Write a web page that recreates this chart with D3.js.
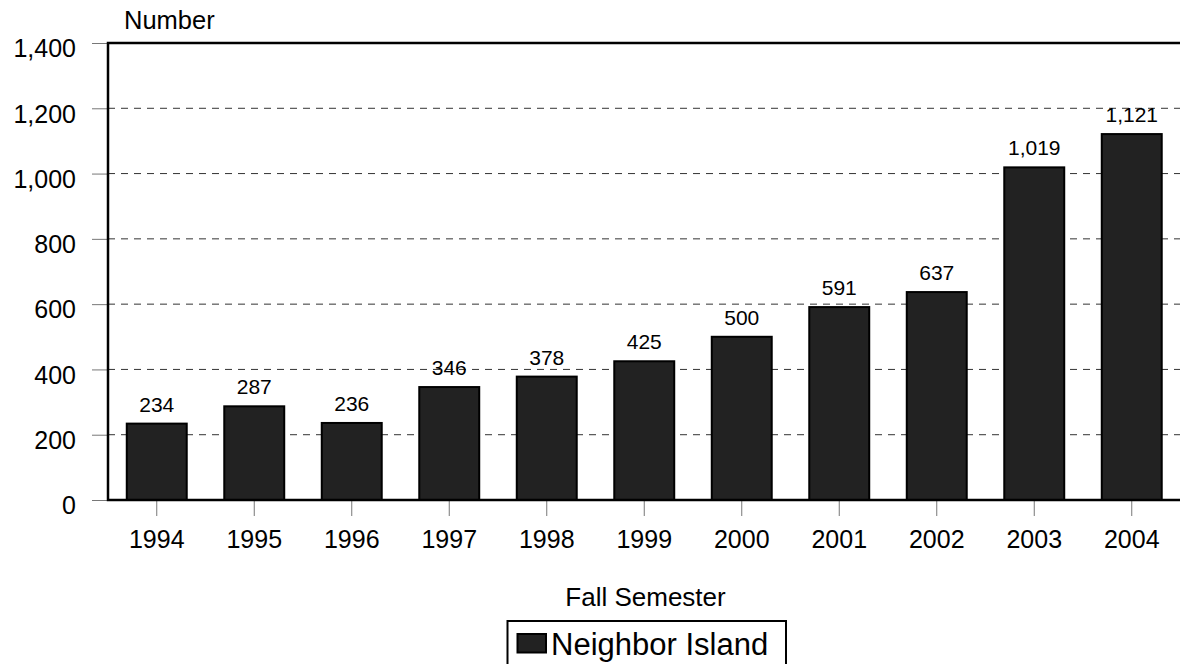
<!DOCTYPE html>
<html>
<head>
<meta charset="utf-8">
<script src="https://cdn.jsdelivr.net/npm/d3@7"></script>
<style>
  body { margin: 0; background: #fff; }
  svg text { font-family: "Liberation Sans", Arial, sans-serif; fill: #000; }
</style>
</head>
<body>
<svg id="chart" width="1180" height="664"></svg>
<script>
// data
var years = ["1994", "1995", "1996", "1997", "1998", "1999", "2000", "2001", "2002", "2003", "2004"];
var students = [234, 287, 236, 346, 378, 425, 500, 591, 637, 1019, 1121];
var yTicks = [0, 200, 400, 600, 800, 1000, 1200, 1400];
var seriesName = "Neighbor Island";

(function () {
  var svg = d3.select("#chart");

  // plot area edges (right side runs off the page like the original)
  var pLeft = 108, pTop = 43, pBottom = 500, pRight = 1180.5;

  var x = d3.scaleBand()
    .domain(years)
    .range([pLeft, pRight])
    .paddingInner(0.385)
    .paddingOuter(0.1925);

  var y = d3.scaleLinear()
    .domain([0, 1400])
    .range([pBottom, pTop]);

  var fmt = d3.format(",");

  // dashed gridlines
  svg.append("g")
    .selectAll("line")
    .data(yTicks.filter(function (d) { return d > 0 && d < 1400; }))
    .enter().append("line")
      .attr("x1", pLeft)
      .attr("x2", 1180)
      .attr("y1", function (d) { return y(d); })
      .attr("y2", function (d) { return y(d); })
      .attr("stroke", "#333")
      .attr("stroke-width", 1)
      .attr("stroke-dasharray", "7,6");

  // y axis ticks + labels
  var yAxis = svg.append("g")
    .attr("transform", "translate(" + pLeft + ",0)")
    .call(d3.axisLeft(y).tickValues(yTicks).tickSize(16).tickPadding(16).tickFormat(fmt));
  yAxis.select(".domain").remove();
  yAxis.selectAll(".tick line").attr("stroke", "#777");
  yAxis.selectAll(".tick text")
    .attr("font-size", 25)
    .attr("dy", "0.55em")
    .style("font-family", "Liberation Sans, Arial, sans-serif");

  // x axis ticks + labels
  var xAxis = svg.append("g")
    .attr("transform", "translate(0," + pBottom + ")")
    .call(d3.axisBottom(x).tickSize(16).tickPadding(14));
  xAxis.select(".domain").remove();
  xAxis.selectAll(".tick line").attr("stroke", "#777");
  xAxis.selectAll(".tick text")
    .attr("font-size", 25)
    .style("font-family", "Liberation Sans, Arial, sans-serif");

  // bars
  svg.append("g")
    .selectAll("rect")
    .data(students)
    .enter().append("rect")
      .attr("x", function (d, i) { return x(years[i]); })
      .attr("y", function (d) { return y(d); })
      .attr("width", x.bandwidth())
      .attr("height", function (d) { return pBottom - y(d); })
      .attr("fill", "#222")
      .attr("stroke", "#000")
      .attr("stroke-width", 2);

  // value labels
  svg.append("g")
    .selectAll("text")
    .data(students)
    .enter().append("text")
      .attr("x", function (d, i) { return x(years[i]) + x.bandwidth() / 2; })
      .attr("y", function (d) { return y(d) - 12; })
      .attr("text-anchor", "middle")
      .attr("font-size", 21)
      .text(function (d) { return fmt(d); });

  // plot frame: top, left, bottom
  svg.append("path")
    .attr("d", "M1182," + pTop + "H" + pLeft + "V" + pBottom + "H1182")
    .attr("fill", "none")
    .attr("stroke", "#000")
    .attr("stroke-width", 2.5);

  // axis titles
  svg.append("text")
    .attr("x", 124)
    .attr("y", 29)
    .attr("font-size", 25.5)
    .text("Number");

  svg.append("text")
    .attr("x", 645.5)
    .attr("y", 606)
    .attr("text-anchor", "middle")
    .attr("font-size", 26)
    .text("Fall Semester");

  // legend
  var legend = svg.append("g");
  legend.append("rect")
    .attr("x", 507.5)
    .attr("y", 621)
    .attr("width", 278.5)
    .attr("height", 60)
    .attr("fill", "#fff")
    .attr("stroke", "#000")
    .attr("stroke-width", 2);
  legend.append("rect")
    .attr("x", 517.5)
    .attr("y", 634)
    .attr("width", 28.5)
    .attr("height", 18.5)
    .attr("fill", "#222")
    .attr("stroke", "#000")
    .attr("stroke-width", 2);
  legend.append("text")
    .attr("x", 551)
    .attr("y", 655)
    .attr("font-size", 31)
    .text(seriesName);
})();
</script>
</body>
</html>
